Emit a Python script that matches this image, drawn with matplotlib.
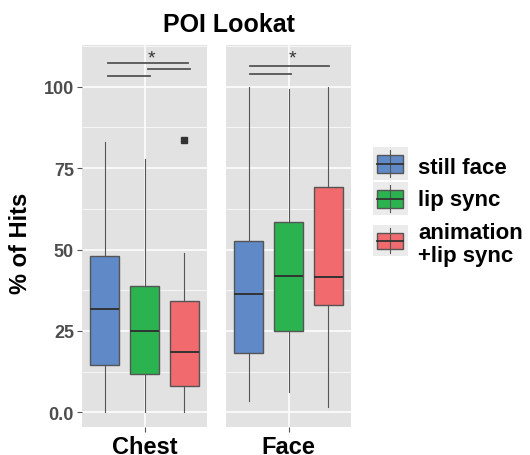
import matplotlib
matplotlib.use('Agg')
import matplotlib.pyplot as plt
from matplotlib.patches import Rectangle

plt.rcParams['font.family'] = ['Liberation Sans', 'DejaVu Sans']

# ---- data ----
facets = ['Chest', 'Face']
groups = ['still face', 'lip sync', 'animation\n+lip sync']
colors = ['#6089C8', '#2BB34F', '#F06A6E']

# one row per facet, one value per group
q1 = [[14.6, 11.7, 8.2], [18.2, 25.1, 32.9]]
medians = [[31.7, 24.9, 18.6], [36.3, 42.0, 41.6]]
q3 = [[48.1, 38.9, 34.3], [52.7, 58.3, 69.1]]
whisk_lo = [[0.0, 0.0, 0.0], [3.6, 6.1, 1.5]]
whisk_hi = [[82.9, 77.8, 48.9], [100.0, 99.3, 100.0]]
outliers = [[[], [], [83.6]], [[], [], []]]

# significance brackets (x0, x1, y) and star (x, y) per facet
brackets = [
    [(-0.91, 1.11, 107.3), (0.08, 1.14, 105.3), (-0.93, 0.14, 103.2)],
    [(-0.97, 1.03, 106.4), (-0.97, 0.06, 104.0)],
]
stars = [(0.18, 108.9), (0.10, 108.7)]

yticks = [0, 25, 50, 75, 100]
ytick_labels = ['0.0', '25', '50', '75', '100']
yminor = [12.5, 37.5, 62.5, 87.5, 112.5]

W, H = 530, 456
PANEL_BG = '#E3E2E2'


def px(x0, y0, w, h):
    # pixel box (top-left origin) -> figure fraction rect
    return [x0 / W, 1 - (y0 + h) / H, w / W, h / H]


fig = plt.figure(figsize=(W / 100, H / 100), dpi=100)
panel_left = [82, 226]
positions = [-1, 0, 1]

for i, facet in enumerate(facets):
    ax = fig.add_axes(px(panel_left[i], 46, 125, 382))
    ax.set_facecolor(PANEL_BG)
    stats = []
    for j in range(len(groups)):
        stats.append(dict(med=medians[i][j], q1=q1[i][j], q3=q3[i][j],
                          whislo=whisk_lo[i][j], whishi=whisk_hi[i][j],
                          fliers=outliers[i][j]))
    bp = ax.bxp(stats, positions=positions, widths=0.73, patch_artist=True,
                showcaps=False,
                boxprops=dict(edgecolor='#555555', linewidth=1.0),
                medianprops=dict(color='#333333', linewidth=1.4),
                whiskerprops=dict(color='#555555', linewidth=0.8),
                flierprops=dict(marker='s', markersize=4.2,
                                markerfacecolor='#333333',
                                markeredgecolor='#333333'))
    for patch, c in zip(bp['boxes'], colors):
        patch.set_facecolor(c)

    for x0, x1, y in brackets[i]:
        ax.plot([x0, x1], [y, y], color='#555555', lw=1.3)
    sx, sy = stars[i]
    ax.text(sx, sy, '*', ha='center', va='center', fontsize=14, color='#333333')

    ax.set_xlim(-1.578, 1.578)
    ax.set_ylim(-4.5, 112.8)
    ax.set_xticks([0], [facet], fontsize=17, fontweight='bold')
    ax.set_yticks(yticks, ytick_labels if i == 0 else [''] * len(yticks),
                  fontsize=13, fontweight='bold', color='#4D4D4D')
    ax.set_yticks(yminor, minor=True)
    ax.set_axisbelow(True)
    ax.grid(which='major', color='white', lw=1.1)
    ax.grid(which='minor', axis='y', color='white', lw=0.5)
    ax.tick_params(which='major', length=3.3, width=0.8, color='#555555', pad=2.5)
    ax.tick_params(which='minor', length=0)
    if i == 1:
        ax.tick_params(axis='y', length=0)
    for s in ax.spines.values():
        s.set_visible(False)

fig.text(229 / W, 1 - 32 / H, 'POI Lookat', ha='center', va='baseline',
         fontsize=18, fontweight='bold')
fig.text(20.5 / W, 1 - 243 / H, '% of Hits', rotation=90, ha='center',
         va='center', fontsize=17, fontweight='bold')

# ---- legend drawn by hand (ggplot style keys) ----
lax = fig.add_axes([0, 0, 1, 1])
lax.set_xlim(0, W)
lax.set_ylim(H, 0)
lax.axis('off')
key_top = [147, 182, 225]
key_h = [35, 35, 33]
text_base = [174.3, 205.7, 261.7]  # baseline of the last text line
for j, label in enumerate(groups):
    t, h = key_top[j], key_h[j]
    lax.add_patch(Rectangle((373, t + 1), 35, h - 2, facecolor='#EBEBEB',
                            edgecolor='none'))
    lax.plot([390, 390], [t + 4, t + h - 4], color='#555555', lw=0.8)
    lax.add_patch(Rectangle((377, t + 8.5), 26, h - 17, facecolor=colors[j],
                            edgecolor='#555555', lw=1.0))
    lax.plot([377, 403], [t + h / 2, t + h / 2], color='#333333', lw=1.3)
    lax.text(418, text_base[j], label, ha='left', va='baseline', fontsize=16,
             fontweight='bold', linespacing=1.1)

fig.savefig('out.png', dpi=100)
